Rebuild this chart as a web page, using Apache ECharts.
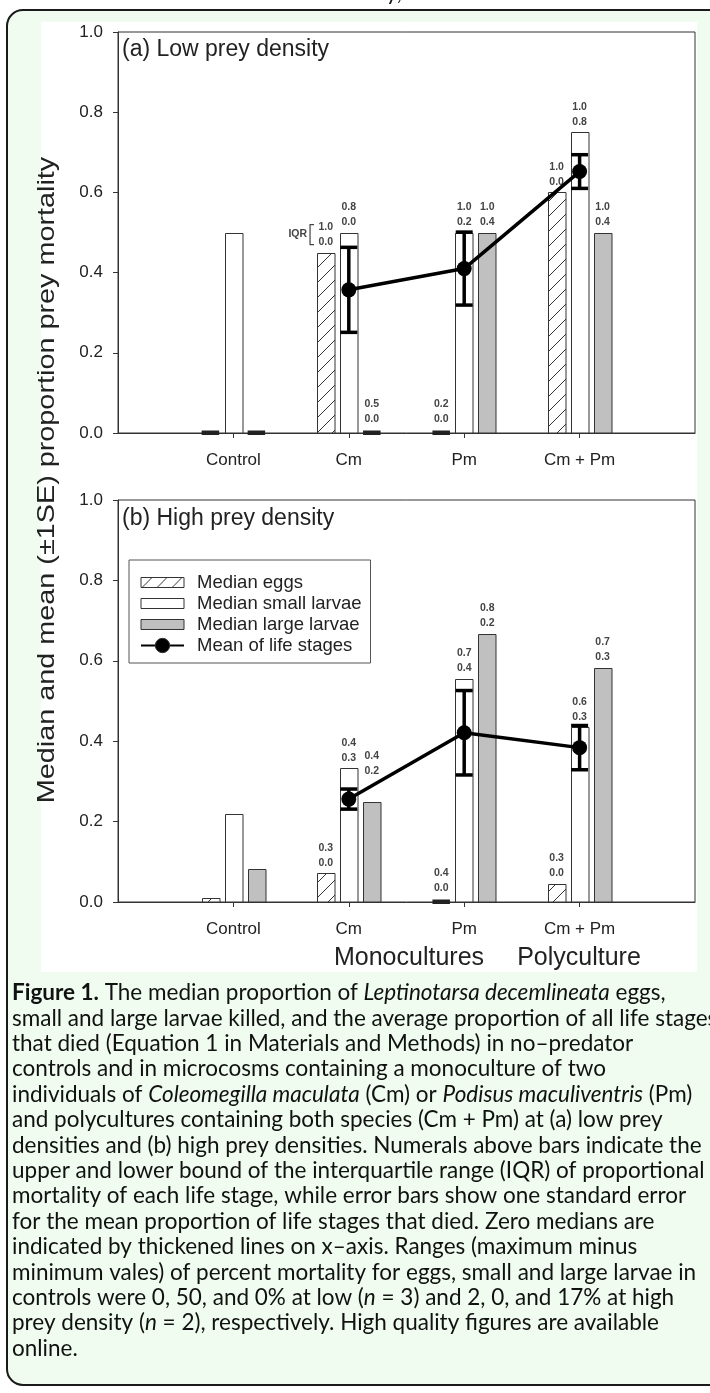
<!DOCTYPE html>
<html>
<head>
<meta charset="utf-8">
<script src="https://cdn.jsdelivr.net/npm/echarts@6/dist/echarts.min.js"></script>
<style>
html, body { margin: 0; padding: 0; background: #fff; }
#chart { width: 710px; height: 1393px; }
</style>
</head>
<body>
<div id="chart"></div>
<script>
// x categories (a blank slot each side so the groups sit where the original has them)
var categories = ['Control', 'Cm', 'Pm', 'Cm + Pm'];
var axisSlots = [' '].concat(categories, ['  ']);
var yTicks = [0, 0.2, 0.4, 0.6, 0.8, 1.0];

// (a) low prey density - medians
var lowEggs = [0, 0.45, 0, 0.60];
var lowSmall = [0.50, 0.50, 0.50, 0.75];
var lowLarge = [0, 0, 0.50, 0.50];
// mean of life stages and its SE
var lowMean = [null, 0.357, 0.41, 0.652];
var lowSE = [null, 0.106, 0.091, 0.042];
// IQR [upper, lower] printed above the bars
var lowEggsIQR = [null, [1.0, 0.0], [0.2, 0.0], [1.0, 0.0]];
var lowSmallIQR = [null, [0.8, 0.0], [1.0, 0.2], [1.0, 0.8]];
var lowLargeIQR = [null, [0.5, 0.0], [1.0, 0.4], [1.0, 0.4]];

// (b) high prey density
var highEggs = [0.011, 0.071, 0, 0.046];
var highSmall = [0.22, 0.333, 0.555, 0.435];
var highLarge = [0.083, 0.25, 0.667, 0.583];
var highMean = [null, 0.256, 0.421, 0.384];
var highSE = [null, 0.025, 0.105, 0.055];
var highEggsIQR = [null, [0.3, 0.0], [0.4, 0.0], [0.3, 0.0]];
var highSmallIQR = [null, [0.4, 0.3], [0.7, 0.4], [0.6, 0.3]];
var highLargeIQR = [null, [0.4, 0.2], [0.8, 0.2], [0.7, 0.3]];

var panelTitles = ['(a) Low prey density', '(b) High prey density'];
var groupTitles = ['Monocultures', 'Polyculture'];
var yName = 'Median and mean (\u00b11SE) proportion prey mortality';

var captionLines = [
    '{b|Figure 1.} The median proportion of {i|Leptinotarsa decemlineata} eggs,',
    'small and large larvae killed, and the average proportion of all life stages',
    'that died (Equation 1 in Materials and Methods) in no\u2013predator',
    'controls and in microcosms containing a monoculture of two',
    'individuals of {i|Coleomegilla maculata} (Cm) or {i|Podisus maculiventris} (Pm)',
    'and polycultures containing both species (Cm + Pm) at (a) low prey',
    'densities and (b) high prey densities. Numerals above bars indicate the',
    'upper and lower bound of the interquartile range (IQR) of proportional',
    'mortality of each life stage, while error bars show one standard error',
    'for the mean proportion of life stages that died. Zero medians are',
    'indicated by thickened lines on x\u2013axis. Ranges (maximum minus',
    'minimum vales) of percent mortality for eggs, small and large larvae in',
    'controls were 0, 50, and 0% at low ({i|n} = 3) and 2, 0, and 17% at high',
    'prey density ({i|n} = 2), respectively. High quality figures are available',
    'online.'
];

var FONT = '"Liberation Sans", Arial, sans-serif';
var CAP_FONT = 'Lato, "Open Sans", sans-serif';
var CAP_SIZE = 22.5;
var BAR_W = 17.5, BAR_STEP = 23;
var INK = '#222';

// diagonal hatch used for the egg bars
function hatch(size) {
    var c = document.createElement('canvas');
    c.width = size; c.height = size;
    var g = c.getContext('2d');
    g.fillStyle = '#fff';
    g.fillRect(0, 0, size, size);
    g.strokeStyle = '#333';
    g.lineWidth = 1;
    g.beginPath();
    g.moveTo(-1, size + 1); g.lineTo(size + 1, -1);
    g.moveTo(-size / 2 - 1, size / 2 + 1); g.lineTo(size / 2 + 1, -size / 2 - 1);
    g.moveTo(size / 2 - 1, size * 1.5 + 1); g.lineTo(size * 1.5 + 1, size / 2 - 1);
    g.stroke();
    return c;
}
var hatchFill = {image: hatch(15), repeat: 'repeat'};

// label moved up a bit (panel-series-category)
var labelLift = {'1-2-1': 20};

function barSeries(name, vals, iqr, slot, fill, g) {
    return {
        type: 'custom',
        name: name,
        xAxisIndex: g,
        yAxisIndex: g,
        z: 2,
        silent: true,
        itemStyle: {color: fill, borderColor: '#333', borderWidth: 1},
        data: vals.map(function (v, i) {
            return [i + 1, v, iqr[i] ? iqr[i][0] : NaN, iqr[i] ? iqr[i][1] : NaN];
        }),
        renderItem: function (params, api) {
            var v = api.value(1);
            var top = api.coord([api.value(0), v]);
            var base = api.coord([api.value(0), 0]);
            var x = top[0] + slot * BAR_STEP - BAR_W / 2;
            var kids = [];
            var labelY;
            if (v === 0) {
                kids.push({type: 'rect', shape: {x: x, y: base[1] - 2.5, width: BAR_W, height: 4.5}, style: {fill: INK}});
                labelY = base[1] - 3;
            } else {
                kids.push({
                    type: 'rect',
                    shape: {x: Math.round(x) + 0.5, y: Math.round(top[1]) + 0.5, width: BAR_W, height: base[1] - Math.round(top[1]) - 0.5},
                    style: {fill: fill, stroke: '#333', lineWidth: 1}
                });
                labelY = top[1];
            }
            var hi = api.value(2), lo = api.value(3);
            if (!isNaN(hi)) {
                var lift = labelLift[g + '-' + (slot + 1) + '-' + params.dataIndex] || 0;
                labelY -= lift;
                kids.push({
                    type: 'text', x: x + BAR_W / 2, y: labelY - 3,
                    style: {
                        text: hi.toFixed(1) + '\n' + lo.toFixed(1),
                        align: 'center', verticalAlign: 'bottom',
                        font: 'bold 10.5px ' + FONT, fill: '#444', lineHeight: 15
                    }
                });
                // the "IQR [" key beside the first labelled egg bar of panel (a)
                if (g === 0 && slot === -1 && params.dataIndex === 1) {
                    var mid = labelY - 3 - 15;
                    kids.push({
                        type: 'text', x: x - 10, y: mid,
                        style: {text: 'IQR', align: 'right', verticalAlign: 'middle', font: 'bold 10.5px ' + FONT, fill: '#444'}
                    });
                    kids.push({
                        type: 'polyline',
                        shape: {points: [[x - 3, mid - 10], [x - 7, mid - 10], [x - 7, mid + 10], [x - 3, mid + 10]]},
                        style: {stroke: '#444', lineWidth: 1.2, fill: null}
                    });
                }
            }
            return {type: 'group', children: kids};
        }
    };
}

function errSeries(mean, se, g) {
    var data = [];
    mean.forEach(function (m, i) {
        if (m !== null) data.push([i + 1, m - se[i], m + se[i]]);
    });
    return {
        type: 'custom',
        name: 'se' + g,
        xAxisIndex: g,
        yAxisIndex: g,
        z: 3,
        silent: true,
        data: data,
        renderItem: function (params, api) {
            var lo = api.coord([api.value(0), api.value(1)]);
            var hi = api.coord([api.value(0), api.value(2)]);
            var hw = 8.5, st = {stroke: '#000', lineWidth: 3.5};
            return {type: 'group', children: [
                {type: 'line', shape: {x1: lo[0], y1: lo[1], x2: hi[0], y2: hi[1]}, style: st},
                {type: 'line', shape: {x1: lo[0] - hw, y1: lo[1], x2: lo[0] + hw, y2: lo[1]}, style: st},
                {type: 'line', shape: {x1: hi[0] - hw, y1: hi[1], x2: hi[0] + hw, y2: hi[1]}, style: st}
            ]};
        }
    };
}

function meanSeries(mean, g) {
    var data = [];
    mean.forEach(function (m, i) {
        if (m !== null) data.push([i + 1, m]);
    });
    return {
        type: 'line',
        name: 'Mean of life stages',
        xAxisIndex: g,
        yAxisIndex: g,
        z: 4,
        silent: true,
        data: data,
        symbol: 'circle',
        symbolSize: 15,
        lineStyle: {color: '#000', width: 3.5},
        itemStyle: {color: '#000'}
    };
}

var grids = [
    {left: 118, top: 32, width: 577, height: 401},
    {left: 118, top: 500, width: 577, height: 402}
];

function xAxis(g) {
    return {
        type: 'category', gridIndex: g, data: axisSlots, boundaryGap: false,
        axisLine: {lineStyle: {color: '#333', width: 1}},
        axisTick: {length: 5, interval: function (i) { return i > 0 && i < axisSlots.length - 1; }, lineStyle: {color: '#333'}},
        axisLabel: {interval: 0, margin: 19, fontSize: 17, fontFamily: FONT, color: INK},
        splitLine: {show: false}
    };
}

function yAxis(g) {
    return {
        type: 'value', gridIndex: g, min: yTicks[0], max: yTicks[yTicks.length - 1], interval: 0.2,
        axisLine: {show: true, lineStyle: {color: '#333', width: 1}},
        axisTick: {show: true, length: 5, lineStyle: {color: '#333'}},
        axisLabel: {formatter: function (v) { return v.toFixed(1); }, margin: 15, fontSize: 17, fontFamily: FONT, color: INK},
        splitLine: {show: false}
    };
}

var RECT_ICON = 'path://M0,0L0.01,0M43,18L42.99,18M0,4L43,4L43,14L0,14Z';

var graphics = [
    // framed caption box and the white figure area
    {type: 'rect', z: -20, shape: {x: 7, y: 10, width: 730, height: 1375, r: 16},
        style: {fill: '#effcef', stroke: '#1a1a1a', lineWidth: 2}},
    {type: 'rect', z: -19, shape: {x: 41, y: 22, width: 656, height: 950}, style: {fill: '#fff'}},
    // tail of the line of text above the box
    {type: 'text', x: 386, y: -7, style: {text: 'y,', verticalAlign: 'middle', font: CAP_SIZE + 'px ' + CAP_FONT, fill: '#111'}},
    {type: 'text', rotation: Math.PI / 2, scaleX: 1.2, x: 47, y: 480,
        style: {text: yName, align: 'center', verticalAlign: 'middle', font: '24px ' + FONT, fill: INK}}
];
panelTitles.forEach(function (t, k) {
    graphics.push({type: 'text', x: 122, y: [50, 519][k],
        style: {text: t, verticalAlign: 'middle', font: '23px ' + FONT, fill: INK}});
});
groupTitles.forEach(function (t, k) {
    graphics.push({type: 'text', x: [409, 579][k], y: 958,
        style: {text: t, align: 'center', verticalAlign: 'middle', font: '25px ' + FONT, fill: INK}});
});
captionLines.forEach(function (t, k) {
    graphics.push({type: 'text', x: 12, y: 993 + k * 25.4,
        style: {
            text: t, verticalAlign: 'middle', font: CAP_SIZE + 'px ' + CAP_FONT, fill: '#111',
            rich: {
                b: {fontWeight: 'bold', fontSize: CAP_SIZE, fontFamily: CAP_FONT, fill: '#111'},
                i: {fontStyle: 'italic', fontSize: CAP_SIZE, fontFamily: CAP_FONT, fill: '#111'}
            }
        }});
});

var chart = echarts.init(document.getElementById('chart'));
chart.setOption({
    animation: false,
    backgroundColor: '#fff',
    grid: grids.map(function (g) {
        return Object.assign({show: true, borderColor: '#333', borderWidth: 1, backgroundColor: 'transparent'}, g);
    }),
    xAxis: [xAxis(0), xAxis(1)],
    yAxis: [yAxis(0), yAxis(1)],
    legend: {
        left: 129, top: 560, orient: 'vertical',
        padding: [13, 9, 8, 11], itemGap: 2, itemWidth: 43, itemHeight: 18,
        borderColor: '#555', borderWidth: 1, backgroundColor: '#fff',
        selectedMode: false,
        itemStyle: {borderColor: '#333', borderWidth: 1},
        textStyle: {fontSize: 18.5, fontFamily: FONT, color: INK, padding: [0, 0, 0, 8]},
        data: [
            {name: 'Median eggs', icon: RECT_ICON},
            {name: 'Median small larvae', icon: RECT_ICON},
            {name: 'Median large larvae', icon: RECT_ICON},
            {name: 'Mean of life stages'}
        ]
    },
    graphic: graphics,
    series: [
        barSeries('Median eggs', lowEggs, lowEggsIQR, -1, hatchFill, 0),
        barSeries('Median small larvae', lowSmall, lowSmallIQR, 0, '#fff', 0),
        barSeries('Median large larvae', lowLarge, lowLargeIQR, 1, '#c0c0c0', 0),
        errSeries(lowMean, lowSE, 0),
        meanSeries(lowMean, 0),
        barSeries('Median eggs', highEggs, highEggsIQR, -1, hatchFill, 1),
        barSeries('Median small larvae', highSmall, highSmallIQR, 0, '#fff', 1),
        barSeries('Median large larvae', highLarge, highLargeIQR, 1, '#c0c0c0', 1),
        errSeries(highMean, highSE, 1),
        meanSeries(highMean, 1)
    ]
});
</script>
</body>
</html>
